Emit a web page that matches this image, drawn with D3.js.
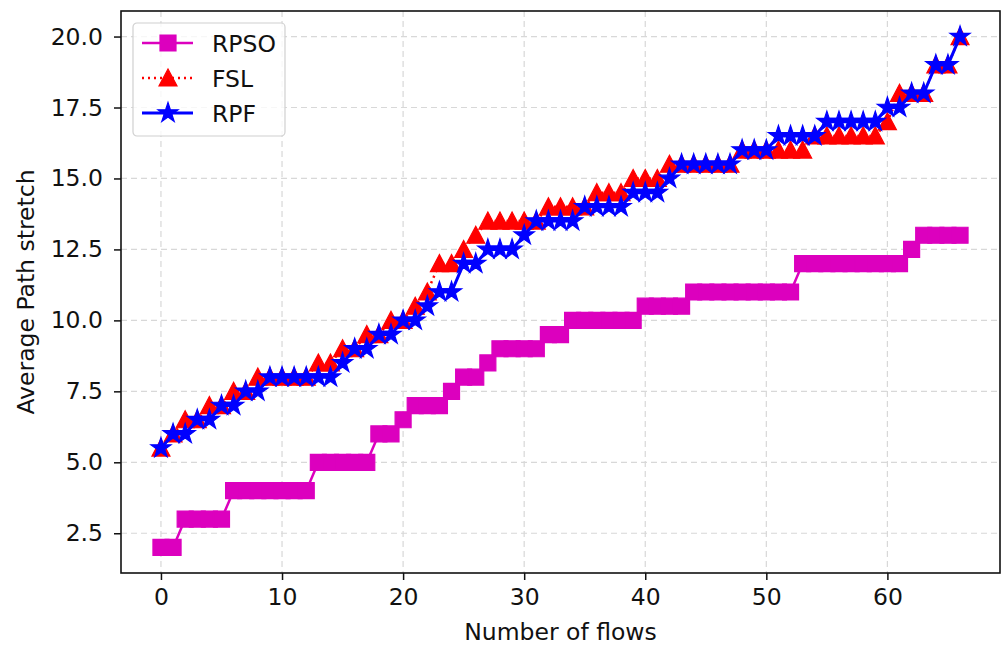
<!DOCTYPE html>
<html>
<head>
<meta charset="utf-8">
<script src="https://cdn.jsdelivr.net/npm/d3@7"></script>
<style>
  body { margin: 0; background: #fff; }
  text { font-family: "DejaVu Sans", sans-serif; fill: #111; }
</style>
</head>
<body>
<div id="chart"></div>
<script>
// data
var flows = d3.range(0, 67);

var rpso = [2, 2, 3, 3, 3, 3, 4, 4, 4, 4, 4, 4, 4, 5, 5, 5, 5, 5, 6, 6,
  6.5, 7, 7, 7, 7.5, 8, 8, 8.5, 9, 9, 9, 9, 9.5, 9.5, 10, 10, 10, 10, 10, 10,
  10.5, 10.5, 10.5, 10.5, 11, 11, 11, 11, 11, 11, 11, 11, 11, 12, 12, 12, 12, 12, 12, 12,
  12, 12, 12.5, 13, 13, 13, 13];

var fsl = [5.5, 6, 6.5, 6.5, 7, 7, 7.5, 7.5, 8, 8, 8, 8, 8, 8.5, 8.5, 9, 9, 9.5, 9.5, 10,
  10, 10.5, 11, 12, 12, 12.5, 13, 13.5, 13.5, 13.5, 13.5, 13.5, 14, 14, 14, 14, 14.5, 14.5, 14.5, 15,
  15, 15, 15.5, 15.5, 15.5, 15.5, 15.5, 15.5, 16, 16, 16, 16, 16, 16, 16.5, 16.5, 16.5, 16.5, 16.5, 16.5,
  17, 18, 18, 18, 19, 19, 20];

var rpf = [5.5, 6, 6, 6.5, 6.5, 7, 7, 7.5, 7.5, 8, 8, 8, 8, 8, 8, 8.5, 9, 9, 9.5, 9.5,
  10, 10, 10.5, 11, 11, 12, 12, 12.5, 12.5, 12.5, 13, 13.5, 13.5, 13.5, 13.5, 14, 14, 14, 14, 14.5,
  14.5, 14.5, 15, 15.5, 15.5, 15.5, 15.5, 15.5, 16, 16, 16, 16.5, 16.5, 16.5, 16.5, 17, 17, 17, 17, 17,
  17.5, 17.5, 18, 18, 19, 19, 20];

var xTicks = [0, 10, 20, 30, 40, 50, 60];
var yTicks = [2.5, 5.0, 7.5, 10.0, 12.5, 15.0, 17.5, 20.0];

var svgWidth = 1002;
var svgHeight = 649;
var margin = { top: 11, right: 2, bottom: 76, left: 121 };
var width = svgWidth - margin.left - margin.right;
var height = svgHeight - margin.top - margin.bottom;
var fontSize = 23.5;

var svg = d3.select("#chart").append("svg")
  .attr("width", svgWidth)
  .attr("height", svgHeight);

var chartGroup = svg.append("g")
  .attr("transform", `translate(${margin.left}, ${margin.top})`);

// matplotlib style 5% margins
var xScale = d3.scaleLinear().domain([-3.3, 69.3]).range([0, width]);
var yScale = d3.scaleLinear().domain([1.1, 20.9]).range([height, 0]);

// grid
chartGroup.append("g").selectAll("line")
  .data(xTicks).enter().append("line")
  .attr("x1", d => xScale(d)).attr("x2", d => xScale(d))
  .attr("y1", 0).attr("y2", height)
  .attr("stroke", "#d8d8d8").attr("stroke-width", 1.2)
  .attr("stroke-dasharray", "6,4");

chartGroup.append("g").selectAll("line")
  .data(yTicks).enter().append("line")
  .attr("y1", d => yScale(d)).attr("y2", d => yScale(d))
  .attr("x1", 0).attr("x2", width)
  .attr("stroke", "#d8d8d8").attr("stroke-width", 1.2)
  .attr("stroke-dasharray", "6,4");

// axes
var xAxis = d3.axisBottom(xScale).tickValues(xTicks).tickSize(7).tickPadding(8)
  .tickFormat(d3.format("d"));
var yAxis = d3.axisLeft(yScale).tickValues(yTicks).tickSize(7).tickPadding(11)
  .tickFormat(d3.format(".1f"));

var xg = chartGroup.append("g")
  .attr("transform", `translate(0, ${height})`)
  .call(xAxis);
var yg = chartGroup.append("g").call(yAxis);

[xg, yg].forEach(function(g) {
  g.select(".domain").remove();
  g.selectAll("line").attr("stroke", "#111").attr("stroke-width", 1.5);
  g.selectAll("text").attr("font-size", fontSize).attr("font-family", "DejaVu Sans").attr("fill", "#111");
});

// frame
chartGroup.append("rect")
  .attr("width", width).attr("height", height)
  .attr("fill", "none").attr("stroke", "#111").attr("stroke-width", 1.6);

// markers
var squarePath = "M-8,-8H8V8H-8Z";
var trianglePath = "M0,-9L9,8L-9,8Z";
var starPath = d3.symbol(d3.symbolStar, 125)();

var series = [
  { name: "RPSO", values: rpso, color: "#dc00be", dash: null, width: 2.5, marker: squarePath },
  { name: "FSL", values: fsl, color: "#ff0000", dash: "2,4", width: 2.5, marker: trianglePath },
  { name: "RPF", values: rpf, color: "#0000ff", dash: null, width: 3, marker: starPath }
];

var line = d3.line()
  .x(d => xScale(d.x))
  .y(d => yScale(d.y));

series.forEach(function(s) {
  var pts = flows.map((f, i) => ({ x: f, y: s.values[i] }));
  var g = chartGroup.append("g");
  g.append("path")
    .attr("d", line(pts))
    .attr("fill", "none")
    .attr("stroke", s.color)
    .attr("stroke-width", s.width)
    .attr("stroke-dasharray", s.dash);
  g.selectAll("path.mk")
    .data(pts).enter().append("path")
    .attr("class", "mk")
    .attr("d", s.marker)
    .attr("transform", d => `translate(${xScale(d.x)}, ${yScale(d.y)})`)
    .attr("fill", s.color)
    .attr("stroke", s.color)
    .attr("stroke-width", 1.2);
});

// axis labels
svg.append("text")
  .attr("x", margin.left + width / 2)
  .attr("y", 640)
  .attr("text-anchor", "middle")
  .attr("font-size", fontSize)
  .text("Number of flows");

svg.append("text")
  .attr("transform", `translate(34, ${margin.top + height / 2}) rotate(-90)`)
  .attr("text-anchor", "middle")
  .attr("font-size", fontSize)
  .text("Average Path stretch");

// legend
var legend = svg.append("g").attr("transform", "translate(133, 23)");
legend.append("rect")
  .attr("width", 152).attr("height", 113)
  .attr("rx", 4)
  .attr("fill", "#fff").attr("fill-opacity", 0.8)
  .attr("stroke", "#d0d0d0").attr("stroke-width", 1.2);

series.forEach(function(s, i) {
  var yy = 20 + i * 35;
  var item = legend.append("g").attr("transform", `translate(0, ${yy})`);
  item.append("line")
    .attr("x1", 9).attr("x2", 60)
    .attr("stroke", s.color).attr("stroke-width", s.width)
    .attr("stroke-dasharray", s.dash);
  item.append("path")
    .attr("d", s.marker)
    .attr("transform", "translate(35, 0)")
    .attr("fill", s.color).attr("stroke", s.color).attr("stroke-width", 1.2);
  item.append("text")
    .attr("x", 79).attr("y", 9)
    .attr("font-size", fontSize)
    .text(s.name);
});
</script>
</body>
</html>
